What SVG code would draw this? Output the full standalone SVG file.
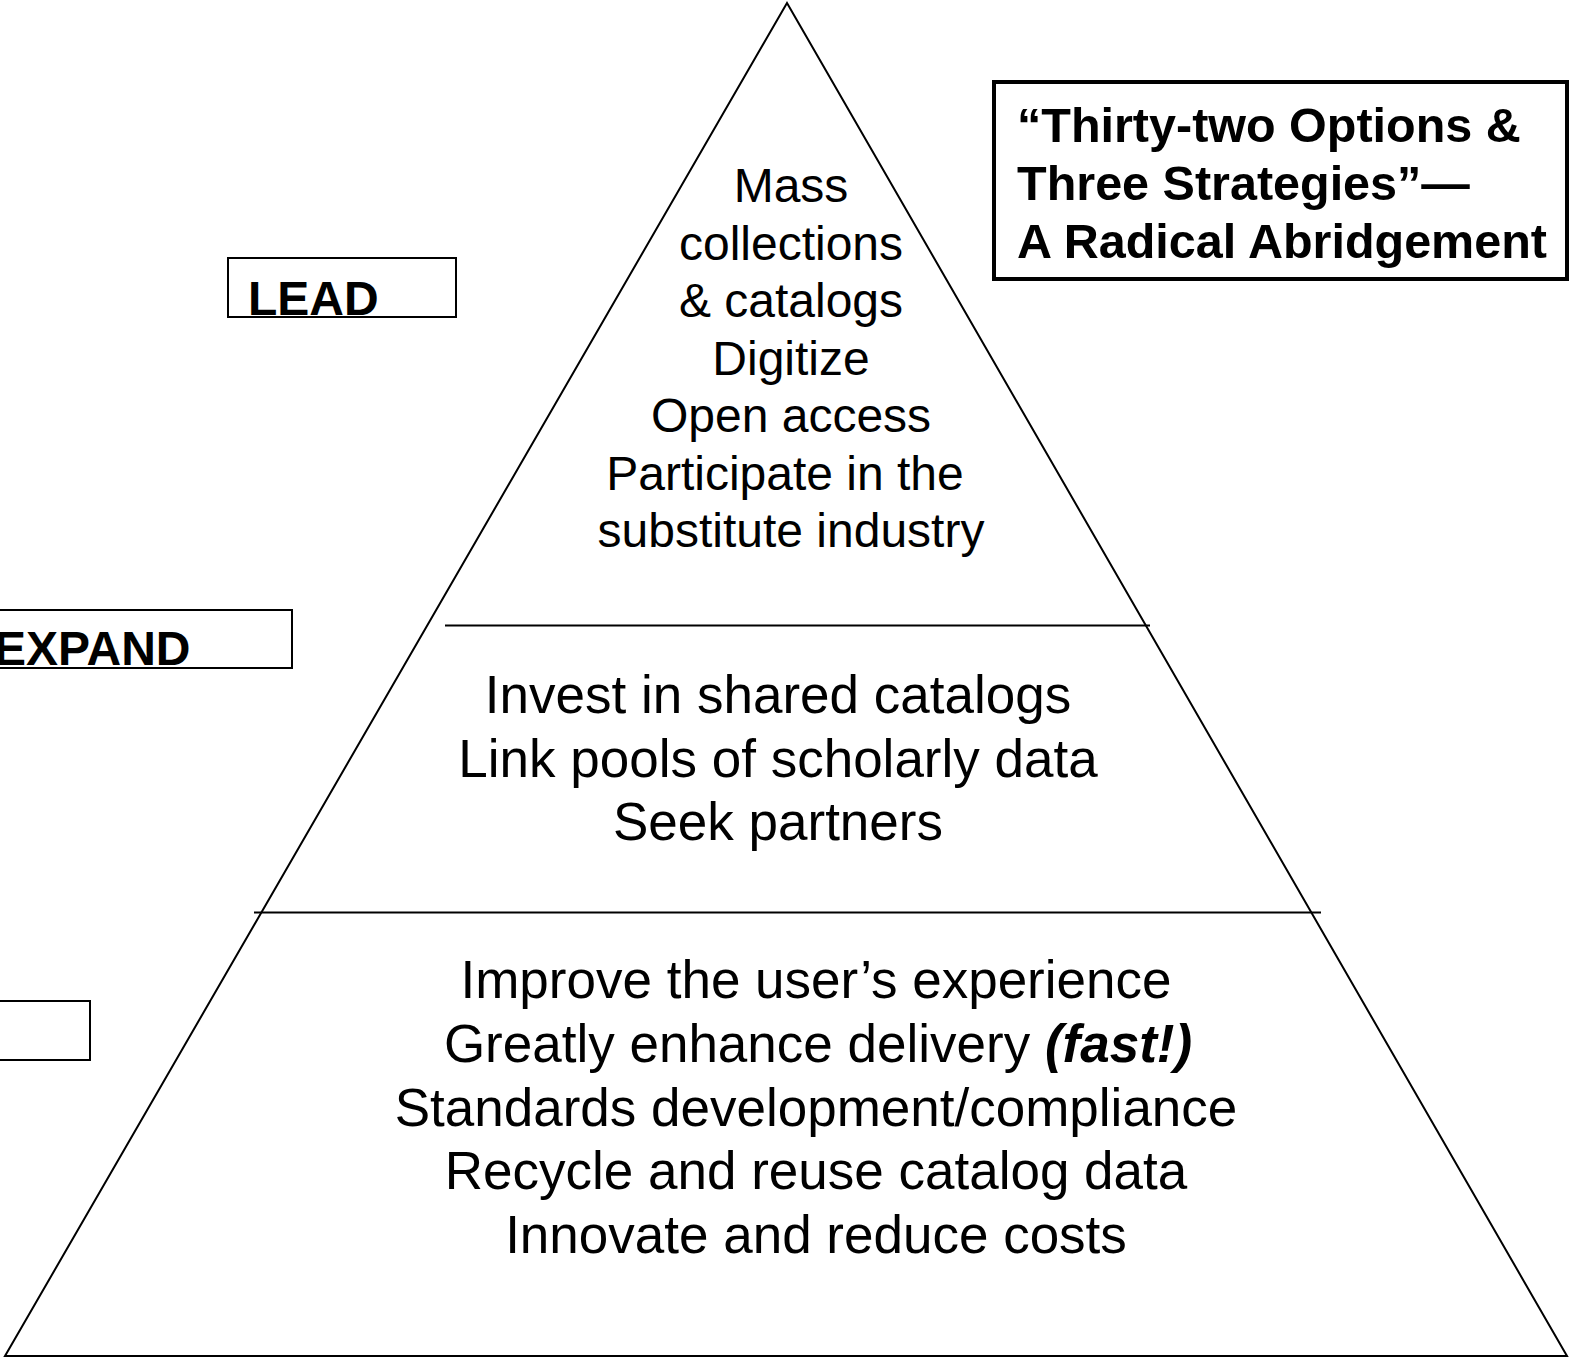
<svg xmlns="http://www.w3.org/2000/svg" width="1571" height="1360" viewBox="0 0 1571 1360">
<style>
.reg{font-family:"Liberation Sans",Arial,sans-serif;fill:#000;text-anchor:middle}
.t1{font-size:48px}
.t2{font-size:53px}
.lbl{font-family:"Liberation Sans",Arial,sans-serif;font-weight:bold;font-size:48px;fill:#000}
.ttl{font-family:"Liberation Sans",Arial,sans-serif;font-weight:bold;font-size:48.5px;fill:#000}
.box{fill:#fff;stroke:#000;stroke-width:2}
.ln{stroke:#000;stroke-width:2;fill:none}
</style>
<rect width="1571" height="1360" fill="#fff"/>
<g id="pyramid">
<polygon points="787,3 5,1356 1567,1356" class="ln" stroke-linejoin="miter"/>
</g>
<g id="connectors">
<line x1="445" y1="625.5" x2="1150" y2="625.5" class="ln"/>
<line x1="254" y1="912.5" x2="1321" y2="912.5" class="ln"/>
</g>
<g id="tier-top" class="reg t1">
<text x="791" y="202">Mass</text>
<text x="791" y="259.5">collections</text>
<text x="791" y="317">&amp; catalogs</text>
<text x="791" y="374.5">Digitize</text>
<text x="791" y="432">Open access</text>
<text x="785" y="489.5">Participate in the</text>
<text x="791" y="547">substitute industry</text>
</g>
<g id="tier-middle" class="reg t2">
<text x="778" y="713">Invest in shared catalogs</text>
<text x="778" y="776.5">Link pools of scholarly data</text>
<text x="778" y="840">Seek partners</text>
</g>
<g id="tier-bottom" class="reg t2">
<text x="816" y="998">Improve the user’s experience</text>
<text x="818" y="1062">Greatly enhance delivery <tspan font-weight="bold" font-style="italic">(fast!)</tspan></text>
<text x="816" y="1125.5">Standards development/compliance</text>
<text x="816" y="1189">Recycle and reuse catalog data</text>
<text x="816" y="1253">Innovate and reduce costs</text>
</g>
<g id="label-lead">
<rect x="228" y="258" width="228" height="59" class="box"/>
<text x="248" y="315" class="lbl">LEAD</text>
</g>
<g id="label-expand">
<rect x="-40" y="610" width="332" height="58" class="box"/>
<text x="-6" y="665" class="lbl">EXPAND</text>
</g>
<g id="label-third">
<rect x="-40" y="1001" width="130" height="59" class="box"/>
</g>
<g id="title">
<rect x="994" y="82" width="573" height="197" fill="#fff" stroke="#000" stroke-width="4"/>
<text class="ttl" x="1017" y="142">“Thirty-two Options &amp;</text>
<text class="ttl" x="1017" y="200">Three Strategies”—</text>
<text class="ttl" x="1017" y="258">A Radical Abridgement</text>
</g>
</svg>
